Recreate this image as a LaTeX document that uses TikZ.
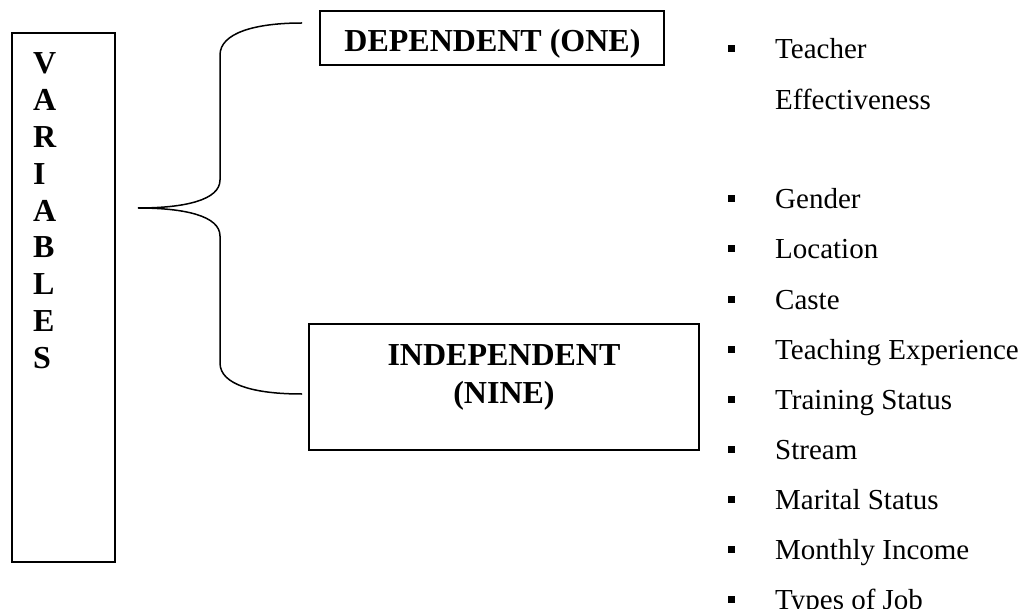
\documentclass[tikz,border=0pt]{standalone}
\usepackage{fontspec}
\setmainfont{Liberation Serif}
\begin{document}
\begin{tikzpicture}[x=1pt,y=-1pt,
  boxs/.style={draw, line width=1.5pt, inner sep=0pt},
  head/.style={font=\fontsize{32}{38}\selectfont\bfseries, align=center, inner sep=0pt},
  item/.style={font=\fontsize{29}{35}\selectfont, anchor=base west, inner sep=0pt},
  bul/.style={fill, minimum size=7pt, inner sep=0pt},
  bracestyle/.style={line width=1.5pt}]
\useasboundingbox (0,0) rectangle (1024,609);

% VARIABLES box
\node[boxs, minimum width=103pt, minimum height=529pt] (var) at (63.5,297.5) {};
\foreach \L [count=\i] in {V,A,R,I,A,B,L,E,S} {
  \node[head, anchor=base west] (v\i) at (33, 73.5+36.9*\i-36.9) {\L};
}

% brace
\coordinate (bt) at (302,23);
\coordinate (bb) at (302,394);
\coordinate (tip) at (138,208);
\draw[bracestyle] (bt) .. controls (255,23) and (220,33) .. (220,55) -- (220,180)
  .. controls (220,200) and (185,208) .. (tip)
  .. controls (185,208) and (220,216) .. (220,236) -- (220,363)
  .. controls (220,385) and (255,394) .. (bb);

% DEPENDENT box
\node[boxs, minimum width=344pt, minimum height=54pt] (dep) at (492,38) {};
\node[head] (deptext) at (492.5,44) {DEPENDENT (ONE)};

% INDEPENDENT box
\node[boxs, minimum width=390pt, minimum height=126pt] (ind) at (504,387) {};
\node[head] (indtext) at (504,377) {INDEPENDENT\\(NINE)};

% dependent list
\node[bul] (b0) at (731,49) {};
\node[item] (t0) at (775,59) {Teacher};
\node[item] (t0b) at (775,110) {Effectiveness};

% independent list
\foreach \txt [count=\i] in {Gender,Location,Caste,Teaching Experience,Training Status,Stream,Marital Status,Monthly Income,Types of Job} {
  \node[bul] (b\i) at (731, 199+50*\i-50) {};
  \node[item] (t\i) at (775, 209+50*\i-50) {\txt};
}
\end{tikzpicture}
\end{document}
